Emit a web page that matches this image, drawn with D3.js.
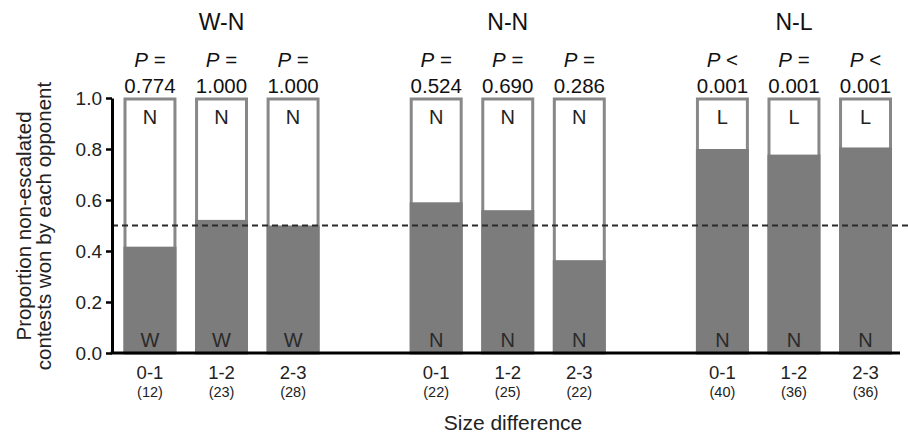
<!DOCTYPE html>
<html>
<head>
<meta charset="utf-8">
<script src="https://cdn.jsdelivr.net/npm/d3@7"></script>
<style>
  html, body { margin: 0; padding: 0; background: #fff; }
  svg { display: block; font-family: "Liberation Sans", Arial, sans-serif; }
</style>
</head>
<body>
<svg id="chart" width="908" height="437"></svg>
<script>
// ---- data ----
const groups = ["W-N", "N-N", "N-L"];
const sizeCats = ["0-1", "1-2", "2-3"];
const sampleSizes = [12, 23, 28, 22, 25, 22, 40, 36, 36];
const propBottom = [0.417, 0.522, 0.5, 0.591, 0.56, 0.364, 0.8, 0.778, 0.806];
const topLetters = ["N", "N", "N", "N", "N", "N", "L", "L", "L"];
const bottomLetters = ["W", "W", "W", "N", "N", "N", "N", "N", "N"];
const pOps = ["=", "=", "=", "=", "=", "=", "<", "=", "<"];
const pValues = ["0.774", "1.000", "1.000", "0.524", "0.690", "0.286", "0.001", "0.001", "0.001"];
const yTicks = [0, 0.2, 0.4, 0.6, 0.8, 1.0];
const refLine = 0.5;

// ---- build records ----
const bars = [];
groups.forEach((g, gi) => {
  sizeCats.forEach((c, ci) => {
    const i = gi * sizeCats.length + ci;
    bars.push({
      key: g + "|" + c, group: g, cat: c, n: sampleSizes[i],
      v: propBottom[i], top: topLetters[i], bottom: bottomLetters[i],
      op: pOps[i], p: pValues[i]
    });
  });
});
const slots = [];
groups.forEach((g, gi) => {
  if (gi > 0) slots.push("gap" + gi);
  sizeCats.forEach(c => slots.push(g + "|" + c));
});

const svg = d3.select("#chart");
const x = d3.scaleBand().domain(slots).range([123.5, 892]).paddingInner(0.26).paddingOuter(0);
const y = d3.scaleLinear().domain([0, 1]).range([353, 98]);
const bw = x.bandwidth();
const axisX = 112;

const barColor = "#7c7c7c";
const edgeColor = "#888888";

// bars
const bg = svg.append("g");
bg.selectAll("rect.outline").data(bars).join("rect")
  .attr("class", "outline")
  .attr("x", d => x(d.key) + 1.5)
  .attr("y", y(1) + 1)
  .attr("width", bw - 3)
  .attr("height", y(0) - y(1) - 1)
  .attr("fill", "#fff")
  .attr("stroke", edgeColor)
  .attr("stroke-width", 3);
bg.selectAll("rect.fillbar").data(bars).join("rect")
  .attr("class", "fillbar")
  .attr("x", d => x(d.key))
  .attr("y", d => y(d.v))
  .attr("width", bw)
  .attr("height", d => y(0) - y(d.v))
  .attr("fill", barColor);

// letters in bars
svg.append("g").selectAll("text").data(bars).join("text")
  .attr("x", d => x(d.key) + bw / 2)
  .attr("y", y(1) + 26)
  .attr("text-anchor", "middle")
  .attr("font-size", 20)
  .attr("fill", "#222")
  .text(d => d.top);
svg.append("g").selectAll("text").data(bars).join("text")
  .attr("x", d => x(d.key) + bw / 2)
  .attr("y", y(0) - 6)
  .attr("text-anchor", "middle")
  .attr("font-size", 20)
  .attr("fill", "#2a2a2a")
  .text(d => d.bottom);

// reference dashed line
svg.append("line")
  .attr("x1", axisX).attr("x2", 908)
  .attr("y1", y(refLine)).attr("y2", y(refLine))
  .attr("stroke", "#2b2b2b")
  .attr("stroke-width", 2)
  .attr("stroke-dasharray", "6,4");

// y axis
const yAxis = svg.append("g")
  .attr("transform", `translate(${axisX},0)`)
  .call(d3.axisLeft(y).tickValues(yTicks).tickFormat(d3.format(".1f")).tickSize(6).tickSizeOuter(0).tickPadding(4));
yAxis.select(".domain").attr("stroke", "#000").attr("stroke-width", 3);
yAxis.selectAll(".tick line").attr("stroke", "#000").attr("stroke-width", 2.5);
yAxis.selectAll(".tick text").attr("font-size", 19).attr("fill", "#222")
  .attr("font-family", "'Liberation Sans', Arial, sans-serif");

// x baseline
svg.append("line")
  .attr("x1", axisX - 1.5).attr("x2", x.range()[1] + 8)
  .attr("y1", y(0)).attr("y2", y(0))
  .attr("stroke", "#000").attr("stroke-width", 3);

// x category labels
svg.append("g").selectAll("text").data(bars).join("text")
  .attr("x", d => x(d.key) + bw / 2)
  .attr("y", 379)
  .attr("text-anchor", "middle")
  .attr("font-size", 18.5)
  .attr("fill", "#222")
  .text(d => d.cat);
svg.append("g").selectAll("text").data(bars).join("text")
  .attr("x", d => x(d.key) + bw / 2)
  .attr("y", 397)
  .attr("text-anchor", "middle")
  .attr("font-size", 14.5)
  .attr("fill", "#222")
  .text(d => "(" + d.n + ")");

// P labels
const pl = svg.append("g").selectAll("text.pl").data(bars).join("text")
  .attr("class", "pl")
  .attr("x", d => x(d.key) + bw / 2)
  .attr("y", 67)
  .attr("text-anchor", "middle")
  .attr("font-size", 20.5)
  .attr("fill", "#111");
pl.append("tspan").attr("font-style", "italic").text("P");
pl.append("tspan").text(d => " " + d.op);
svg.append("g").selectAll("text").data(bars).join("text")
  .attr("x", d => x(d.key) + bw / 2)
  .attr("y", 93)
  .attr("text-anchor", "middle")
  .attr("font-size", 20.5)
  .attr("fill", "#111")
  .text(d => d.p);

// group titles
svg.append("g").selectAll("text").data(groups).join("text")
  .attr("x", g => x(g + "|" + sizeCats[1]) + bw / 2)
  .attr("y", 30)
  .attr("text-anchor", "middle")
  .attr("font-size", 23)
  .attr("fill", "#111")
  .text(g => g);

// axis titles
const yl = svg.append("text")
  .attr("transform", "translate(31,226) rotate(-90)")
  .attr("text-anchor", "middle")
  .attr("font-size", 20.5)
  .attr("fill", "#222");
yl.append("tspan").attr("x", 0).attr("y", 0).text("Proportion non-escalated");
yl.append("tspan").attr("x", 0).attr("y", 20).text("contests won by each opponent");

svg.append("text")
  .attr("x", 513).attr("y", 430)
  .attr("text-anchor", "middle")
  .attr("font-size", 21)
  .attr("fill", "#222")
  .text("Size difference");
</script>
</body>
</html>
